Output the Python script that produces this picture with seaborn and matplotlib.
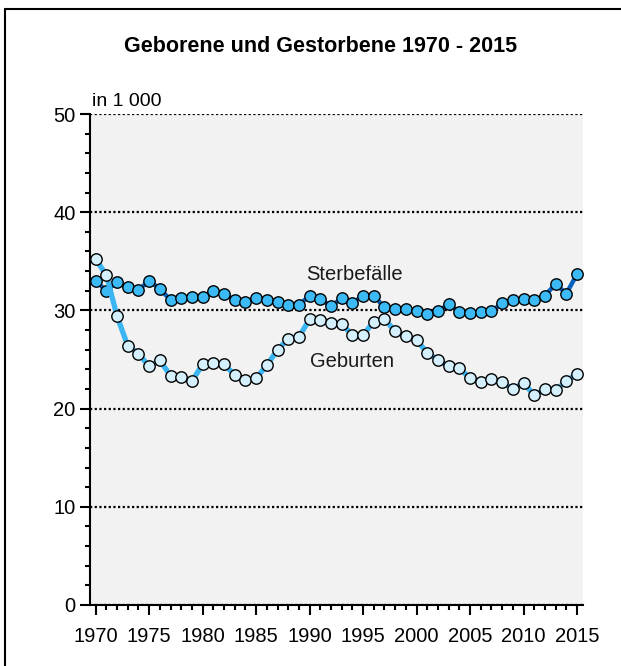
import matplotlib
matplotlib.use("Agg")
import matplotlib.pyplot as plt
from matplotlib.lines import Line2D
from matplotlib.ticker import MultipleLocator
import numpy as np
import pandas as pd
import seaborn as sns

years = list(range(1970, 2016))
geburten = [35.2, 33.6, 29.4, 26.4, 25.6, 24.3, 24.9, 23.35, 23.2, 22.8,
            24.5, 24.6, 24.5, 23.45, 22.9, 23.1, 24.4, 26.0, 27.1, 27.3,
            29.1, 29.0, 28.75, 28.6, 27.5, 27.5, 28.85, 29.1, 27.9, 27.35,
            26.95, 25.7, 24.95, 24.3, 24.1, 23.1, 22.7, 23.0, 22.7, 21.95,
            22.65, 21.35, 22.0, 21.85, 22.8, 23.55]
sterbefaelle = [33.0, 32.0, 32.9, 32.35, 32.1, 33.0, 32.2, 31.05, 31.25, 31.4,
                31.35, 32.0, 31.7, 31.05, 30.85, 31.3, 31.1, 30.9, 30.5, 30.55,
                31.5, 31.2, 30.4, 31.25, 30.8, 31.45, 31.5, 30.3, 30.1, 30.1,
                29.9, 29.65, 29.9, 30.65, 29.8, 29.7, 29.8, 29.9, 30.75, 31.05,
                31.2, 31.05, 31.5, 32.7, 31.7, 33.7]
series_names = ["Sterbefälle", "Geburten"]
title = "Geborene und Gestorbene 1970 - 2015"
unit_label = "in 1 000"

df = pd.DataFrame({"Jahr": years, "Geburten": geburten, "Sterbefälle": sterbefaelle})

sns.set_theme(style="white")
plt.rcParams["font.family"] = ["Liberation Sans", "DejaVu Sans"]

W, H = 621, 666
fig = plt.figure(figsize=(W / 100, H / 100), dpi=100)
ax = fig.add_axes([90 / W, 1 - 605 / H, (583 - 90) / W, (605 - 114) / H])
ax.set_facecolor("#f2f2f2")

# gridlines
ax.set_axisbelow(True)
ax.yaxis.grid(True, which="major", color="black", linestyle=(0, (1, 1.1)), linewidth=1.6)
ax.xaxis.grid(False)

sns.lineplot(data=df, x="Jahr", y="Sterbefälle", ax=ax, color="#0a62bf", linewidth=3.2,
             marker="o", markersize=8.2, markerfacecolor="#3bbaf6",
             markeredgecolor="black", markeredgewidth=1.0, zorder=3)
sns.lineplot(data=df, x="Jahr", y="Geburten", ax=ax, color="#3cb6f2", linewidth=3.8,
             marker="o", markersize=8.2, markerfacecolor="#d4f0fc",
             markeredgecolor="black", markeredgewidth=1.0, zorder=4)

ax.set_xlim(1969.47, 2015.56)
ax.set_ylim(0, 50)
ax.set_xlabel("")
ax.set_ylabel("")

ax.xaxis.set_major_locator(MultipleLocator(5))
ax.xaxis.set_minor_locator(MultipleLocator(1))
ax.yaxis.set_major_locator(MultipleLocator(10))
ax.yaxis.set_minor_locator(MultipleLocator(2))

for s in ["top", "right"]:
    ax.spines[s].set_visible(False)
for s in ["left", "bottom"]:
    ax.spines[s].set_visible(True)
    ax.spines[s].set_color("black")
    ax.spines[s].set_linewidth(1.5)

ax.tick_params(axis="both", which="major", direction="out", length=7.5, width=1.5,
               color="black", labelsize=14.5, labelcolor="black")
ax.tick_params(axis="both", which="minor", direction="out", length=3.8, width=1.5,
               color="black")
ax.tick_params(axis="x", which="major", pad=8, bottom=True)
ax.tick_params(axis="x", which="minor", bottom=True)
ax.tick_params(axis="y", which="major", pad=3, left=True)
ax.tick_params(axis="y", which="minor", left=True)
for lbl in ax.get_xticklabels() + ax.get_yticklabels():
    lbl.set_fontfamily(["Liberation Sans", "DejaVu Sans"])

# series labels
ax.text(1994.2, 33.1, series_names[0], ha="center", va="baseline", fontsize=14.5, color="#1a1a1a")
ax.text(1994.0, 24.2, series_names[1], ha="center", va="baseline", fontsize=14.5, color="#1a1a1a")

# unit label
ax.text((92 - 90) / 493, 1 + (114 - 106) / 491, unit_label, transform=ax.transAxes,
        ha="left", va="baseline", fontsize=14, color="black")

# title
fig.text(321 / W, 1 - 52 / H, title, ha="center", va="baseline", fontsize=15.5,
         fontweight="bold", color="black")

# outer frame (top and left visible)
fig.add_artist(Line2D([4.5 / W, 1.0], [1 - 9 / H, 1 - 9 / H], transform=fig.transFigure,
                      color="black", linewidth=1.5))
fig.add_artist(Line2D([4.5 / W, 4.5 / W], [0.0, 1 - 9 / H], transform=fig.transFigure,
                      color="black", linewidth=1.5))

fig.savefig("out.png", dpi=100, facecolor="white")
